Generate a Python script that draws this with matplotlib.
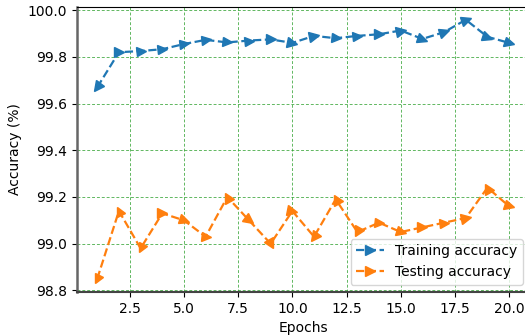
import matplotlib
matplotlib.use('Agg')
import matplotlib.pyplot as plt
from matplotlib.markers import MarkerStyle
from matplotlib.transforms import Affine2D
from matplotlib.lines import Line2D

epochs = list(range(1, 21))
train_acc = [99.67, 99.82, 99.825, 99.833, 99.855, 99.873, 99.862, 99.87, 99.875, 99.86,
             99.89, 99.88, 99.89, 99.897, 99.913, 99.877, 99.906, 99.959, 99.886, 99.86]
test_acc = [98.85, 99.14, 98.98, 99.13, 99.10, 99.03, 99.20, 99.10, 99.00, 99.14,
            99.03, 99.19, 99.05, 99.09, 99.05, 99.07, 99.09, 99.11, 99.24, 99.16]

# marker rotation (degrees) as seen in the picture
train_rot = [235, 0, 5, 5, 8, 8, -5, 5, 0, -12, 10, -5, 5, 3, 10, -20, 18, 20, -18, -15]
test_rot = [245, 115, 245, 0, -20, -5, 120, -40, -60, -10, 235, 120, 240, -5, -15, 0, 5, 10, 120, -15]

blue = '#1f77b4'
orange = '#ff7f0e'
lw = 1.6
ms = 7

fig = plt.figure(figsize=(5.25, 3.35), dpi=100)
ax = fig.add_axes([0.146, 0.129, 0.863, 0.851])

ax.plot(epochs, train_acc, linestyle='--', linewidth=lw, color=blue)
ax.plot(epochs, test_acc, linestyle='--', linewidth=lw, color=orange)

for x, y, r in zip(epochs, train_acc, train_rot):
    m = MarkerStyle('>', transform=Affine2D().rotate_deg(r))
    ax.plot([x], [y], marker=m, linestyle='none', color=blue, markersize=ms)
for x, y, r in zip(epochs, test_acc, test_rot):
    m = MarkerStyle('>', transform=Affine2D().rotate_deg(r))
    ax.plot([x], [y], marker=m, linestyle='none', color=orange, markersize=ms)

ax.set_xlim(0.05, 20.95)
ax.set_ylim(98.794, 100.015)
ax.set_xticks([2.5, 5.0, 7.5, 10.0, 12.5, 15.0, 17.5, 20.0])
ax.set_yticks([98.8, 99.0, 99.2, 99.4, 99.6, 99.8, 100.0])

ax.grid(True, color='#2ca02c', linestyle=(0, (3, 2)), linewidth=0.7, alpha=0.75)
ax.set_axisbelow(True)

ax.spines['left'].set_color('#666666')
ax.spines['left'].set_linewidth(1.8)
ax.spines['bottom'].set_color('#444444')
ax.spines['bottom'].set_linewidth(1.5)

ax.set_xlabel('Epochs')
ax.set_ylabel('Accuracy (%)')

handles = [
    Line2D([], [], linestyle='--', linewidth=lw, color=blue, marker='>', markersize=ms),
    Line2D([], [], linestyle='--', linewidth=lw, color=orange, marker='>', markersize=ms),
]
ax.legend(handles, ['Training accuracy', 'Testing accuracy'], loc='lower right')

fig.savefig('out.png', dpi=100)
